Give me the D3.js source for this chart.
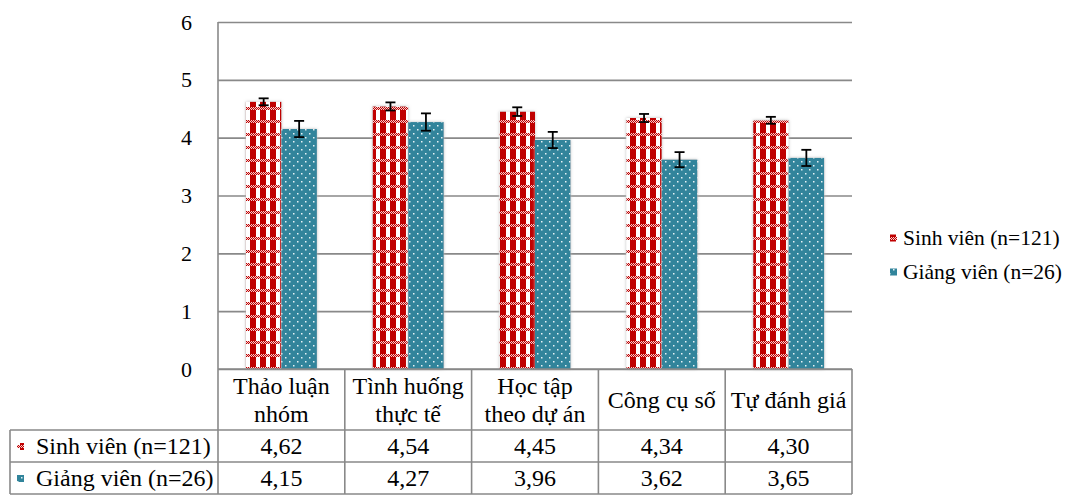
<!DOCTYPE html>
<html>
<head>
<meta charset="utf-8">
<script src="https://cdn.jsdelivr.net/npm/d3@7"></script>
<style>
  body { margin: 0; background: #fff; }
</style>
</head>
<body>
<div id="chart"></div>
<script>
var categories = ["Thảo luận nhóm", "Tình huống thực tế", "Học tập theo dự án", "Công cụ số", "Tự đánh giá"];
var categoryLines = [["Thảo luận", "nhóm"], ["Tình huống", "thực tế"], ["Học tập", "theo dự án"], ["Công cụ số"], ["Tự đánh giá"]];
var seriesNames = ["Sinh viên (n=121)", "Giảng viên (n=26)"];
var sinhVien = [4.62, 4.54, 4.45, 4.34, 4.30];
var giangVien = [4.15, 4.27, 3.96, 3.62, 3.65];
var sinhVienErr = [0.06, 0.07, 0.075, 0.07, 0.06];
var giangVienErr = [0.14, 0.15, 0.14, 0.13, 0.14];
var yTicks = [0, 1, 2, 3, 4, 5, 6];

var W = 1069, H = 496;
var plotLeft = 218, plotRight = 852, plotTop = 22, plotBottom = 369;
var rowH = [61, 32, 32];
var font = "'Liberation Serif', 'Times New Roman', serif";

var svg = d3.select("#chart").append("svg")
    .attr("width", W).attr("height", H);

var defs = svg.append("defs");

// gingham-like pattern for the red series
var pr = defs.append("pattern")
    .attr("id", "pRed").attr("patternUnits", "userSpaceOnUse")
    .attr("width", 10).attr("height", 13);
pr.append("rect").attr("width", 10).attr("height", 13).attr("fill", "#fff");
pr.append("rect").attr("x", 0).attr("width", 6).attr("height", 13).attr("fill", "#c00000");
pr.append("rect").attr("x", 0).attr("y", 3).attr("width", 10).attr("height", 3).attr("fill", "#f4d0d0");
for (var i = 0; i < 10; i++) {
    for (var j = 0; j < 3; j++) {
        if ((i + j) % 2 === 0) {
            pr.append("rect").attr("x", i).attr("y", 3 + j).attr("width", 1).attr("height", 1)
                .attr("fill", "#c00000");
        }
    }
}

// dotted pattern for the teal series
var pt = defs.append("pattern")
    .attr("id", "pTeal").attr("patternUnits", "userSpaceOnUse")
    .attr("width", 8).attr("height", 8);
pt.append("rect").attr("width", 8).attr("height", 8).attr("fill", "#31849b");
pt.append("rect").attr("x", 1).attr("y", 1).attr("width", 1.5).attr("height", 1.5).attr("fill", "#e6f2f5");
pt.append("rect").attr("x", 5).attr("y", 5).attr("width", 1.5).attr("height", 1.5).attr("fill", "#e6f2f5");

var glow = defs.append("filter").attr("id", "glow")
    .attr("x", "-20%").attr("y", "-10%").attr("width", "140%").attr("height", "120%");
glow.append("feGaussianBlur").attr("in", "SourceAlpha").attr("stdDeviation", 1.6).attr("result", "b");
glow.append("feFlood").attr("flood-color", "#bbbbbb");
glow.append("feComposite").attr("in2", "b").attr("operator", "in").attr("result", "s");
var fm = glow.append("feMerge");
fm.append("feMergeNode").attr("in", "s");
fm.append("feMergeNode").attr("in", "SourceGraphic");

var fills = ["url(#pRed)", "url(#pTeal)"];

var x = d3.scaleBand().domain(categories).range([plotLeft, plotRight]);
var xs = d3.scaleBand().domain(seriesNames).range([0, 71]);
var y = d3.scaleLinear().domain([0, 6]).range([plotBottom, plotTop]);

// gridlines + y axis
var yAxis = svg.append("g")
    .attr("transform", "translate(" + plotLeft + ",0)")
    .call(d3.axisLeft(y).tickValues(yTicks).tickSize(-(plotRight - plotLeft)).tickPadding(26).tickFormat(d3.format("d")));
yAxis.select(".domain").remove();
yAxis.selectAll(".tick line").attr("stroke", "#898989").attr("stroke-width", 1.6);
yAxis.selectAll(".tick text").attr("fill", "#000")
    .style("font-family", font).style("font-size", "22px");
svg.append("line").attr("x1", plotLeft).attr("x2", plotLeft).attr("y1", plotTop).attr("y2", plotBottom)
    .attr("stroke", "#898989").attr("stroke-width", 1.6);

var data = [sinhVien, giangVien];
var errs = [sinhVienErr, giangVienErr];
var off = (x.bandwidth() - 71) / 2;

data.forEach(function (vals, s) {
    svg.append("g").selectAll("rect")
        .data(vals)
        .enter().append("rect")
        .attr("x", function (d, i) { return x(categories[i]) + off + xs(seriesNames[s]); })
        .attr("y", function (d) { return y(d); })
        .attr("width", xs.bandwidth())
        .attr("height", function (d) { return y(0) - y(d); })
        .attr("fill", fills[s])
        .attr("filter", "url(#glow)");
});

// error bars
data.forEach(function (vals, s) {
    var g = svg.append("g").attr("stroke", "#000").attr("stroke-width", 1.8);
    vals.forEach(function (v, i) {
        var cx = x(categories[i]) + off + xs(seriesNames[s]) + xs.bandwidth() / 2;
        var e = errs[s][i];
        g.append("line").attr("x1", cx).attr("x2", cx).attr("y1", y(v + e)).attr("y2", y(v - e));
        g.append("line").attr("x1", cx - 5).attr("x2", cx + 5).attr("y1", y(v + e)).attr("y2", y(v + e));
        g.append("line").attr("x1", cx - 5).attr("x2", cx + 5).attr("y1", y(v - e)).attr("y2", y(v - e));
    });
});

// data table
var tbl = svg.append("g").attr("stroke", "#898989").attr("stroke-width", 1.6).attr("fill", "none");
var r1 = plotBottom + rowH[0], r2 = r1 + rowH[1], r3 = r2 + rowH[2];
tbl.append("line").attr("x1", plotLeft).attr("x2", plotRight).attr("y1", plotBottom).attr("y2", plotBottom);
tbl.append("line").attr("x1", 10).attr("x2", plotRight).attr("y1", r1).attr("y2", r1);
tbl.append("line").attr("x1", 10).attr("x2", plotRight).attr("y1", r2).attr("y2", r2);
tbl.append("line").attr("x1", 10).attr("x2", plotRight).attr("y1", r3).attr("y2", r3);
tbl.append("line").attr("x1", 10).attr("x2", 10).attr("y1", r1).attr("y2", r3);
x.domain().forEach(function (c) {
    tbl.append("line").attr("x1", x(c)).attr("x2", x(c)).attr("y1", plotBottom).attr("y2", r3);
});
tbl.append("line").attr("x1", plotRight).attr("x2", plotRight).attr("y1", plotBottom).attr("y2", r3);

var tableText = svg.append("g")
    .style("font-family", font).style("font-size", "24px");

// category labels
categories.forEach(function (c, i) {
    var lines = categoryLines[i];
    var cy = plotBottom + rowH[0] / 2;
    var t = tableText.append("text")
        .attr("x", x(c) + x.bandwidth() / 2)
        .attr("y", cy - (lines.length - 1) * 14)
        .attr("text-anchor", "middle")
        .attr("dominant-baseline", "central");
    lines.forEach(function (l, k) {
        t.append("tspan").attr("x", x(c) + x.bandwidth() / 2).attr("dy", k === 0 ? 0 : 28).text(l);
    });
});

var fmt = function (v) { return d3.format(".2f")(v).replace(".", ","); };
var rowsY = [r1 + rowH[1] / 2, r2 + rowH[2] / 2];
data.forEach(function (vals, s) {
    tableText.append("g").selectAll("text")
        .data(vals)
        .enter().append("text")
        .attr("x", function (d, i) { return x(categories[i]) + x.bandwidth() / 2; })
        .attr("y", rowsY[s])
        .attr("text-anchor", "middle")
        .attr("dominant-baseline", "central")
        .text(fmt);
    svg.append("rect").attr("x", 17).attr("y", rowsY[s] - 3).attr("width", 7).attr("height", 7).attr("fill", fills[s]);
    tableText.append("text").attr("x", 36).attr("y", rowsY[s])
        .attr("dominant-baseline", "central")
        .text(seriesNames[s]);
});

// legend
var legY = [238, 272];
var legend = svg.append("g").style("font-family", font).style("font-size", "21.5px");
seriesNames.forEach(function (n, s) {
    legend.append("rect").attr("x", 890).attr("y", legY[s] - 3.5).attr("width", 7).attr("height", 7).attr("fill", fills[s]);
    legend.append("text").attr("x", 903).attr("y", legY[s])
        .attr("dominant-baseline", "central")
        .text(n);
});
</script>
</body>
</html>
